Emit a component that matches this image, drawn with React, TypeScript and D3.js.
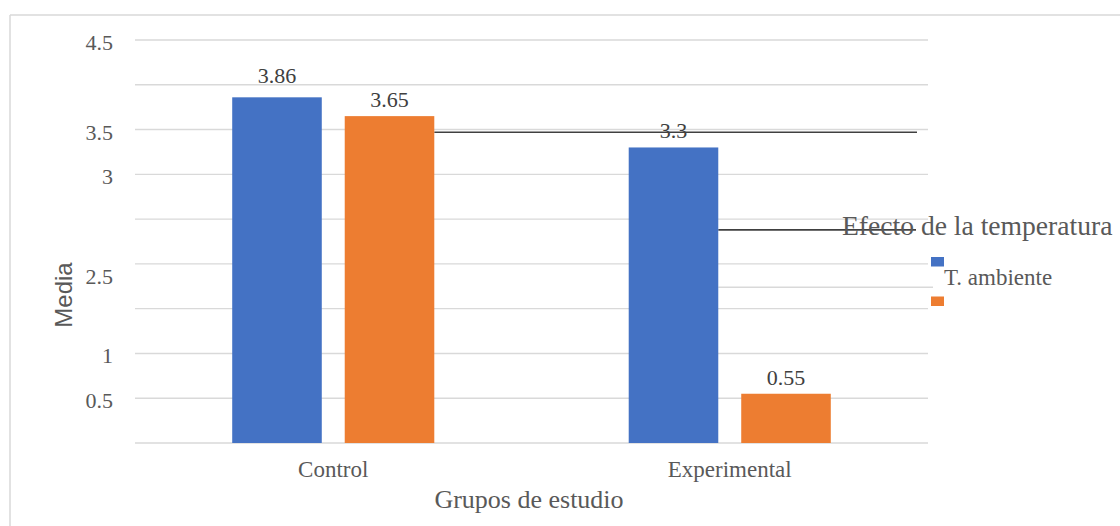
import React from "react";
import * as d3 from "d3";

const categories = ["Control", "Experimental"];
const seriesNames = ["T. ambiente", ""];
const ambiente = [3.86, 3.3];
const segunda = [3.65, 0.55];
const gridValues = [0, 0.5, 1, 1.5, 2, 2.5, 3, 3.5, 4, 4.5];
const tickLabels = ["4.5", "3.5", "3", "2.5", "1", "0.5"];
const tickAt = [4.5, 3.5, 3, 1.89, 1, 0.5];

const W = 1120;
const H = 526;
const COLORS = ["#4472C4", "#ED7D31"];
const TXT = "#595959";
const GRID = "#d9d9d9";
const SERIF = "'Liberation Serif', 'Times New Roman', serif";
const SANS = "'Liberation Sans', Arial, sans-serif";

export default function App() {
  const y = d3.scaleLinear().domain([0, 4.5]).range([443, 40]);
  const x0 = d3.scaleBand<string>().domain(categories).range([135, 928]);
  const x1 = d3
    .scaleBand<string>()
    .domain(["a", "b"])
    .range([0, x0.bandwidth()])
    .paddingInner(0.204)
    .paddingOuter(0.864);
  const series = [ambiente, segunda];

  return (
    <svg
      width={W}
      height={H}
      style={{ position: "absolute", left: 0, top: 0, background: "#fff" }}
    >
      {/* chart border */}
      <line x1={10} y1={15} x2={W} y2={15} stroke={GRID} strokeWidth={1.5} />
      <line x1={10} y1={15} x2={10} y2={H} stroke={GRID} strokeWidth={1.5} />

      {/* gridlines */}
      {gridValues.map((v) => (
        <line
          key={v}
          x1={135}
          x2={928}
          y1={y(v)}
          y2={y(v)}
          stroke={GRID}
          strokeWidth={1.4}
        />
      ))}

      {/* y tick labels */}
      {tickLabels.map((t, i) => (
        <text
          key={t}
          x={113}
          y={y(tickAt[i]) + 10}
          textAnchor="end"
          fontFamily={SERIF}
          fontSize={22}
          fill={TXT}
        >
          {t}
        </text>
      ))}

      {/* stray lines */}
      <line
        x1={x0("Control")! + x1("b")! + x1.bandwidth()}
        x2={917}
        y1={y(3.47)}
        y2={y(3.47)}
        stroke="#404040"
        strokeWidth={1.6}
      />
      <line
        x1={x0("Experimental")! + x1("a")! + x1.bandwidth()}
        x2={916}
        y1={y(2.38)}
        y2={y(2.38)}
        stroke="#404040"
        strokeWidth={1.6}
      />
      <line
        x1={x0("Experimental")! + x1("a")! + x1.bandwidth()}
        x2={933}
        y1={y(1.74)}
        y2={y(1.74)}
        stroke={GRID}
        strokeWidth={1.5}
      />

      {/* bars */}
      {categories.map((c, ci) =>
        series.map((s, si) => (
          <rect
            key={c + si}
            x={x0(c)! + x1(si === 0 ? "a" : "b")!}
            y={y(s[ci])}
            width={x1.bandwidth()}
            height={y(0) - y(s[ci])}
            fill={COLORS[si]}
          />
        ))
      )}

      {/* value labels */}
      {categories.map((c, ci) =>
        series.map((s, si) => (
          <text
            key={"l" + c + si}
            x={x0(c)! + x1(si === 0 ? "a" : "b")! + x1.bandwidth() / 2}
            y={y(s[ci]) - (ci === 0 && si === 0 ? 14.5 : 9)}
            textAnchor="middle"
            fontFamily={SERIF}
            fontSize={22}
            fill="#404040"
          >
            {String(s[ci])}
          </text>
        ))
      )}

      {/* category labels */}
      {categories.map((c) => (
        <text
          key={"c" + c}
          x={x0(c)! + x0.bandwidth() / 2}
          y={477}
          textAnchor="middle"
          fontFamily={SERIF}
          fontSize={23}
          fill={TXT}
        >
          {c}
        </text>
      ))}

      {/* axis titles */}
      <text
        x={529}
        y={508}
        textAnchor="middle"
        fontFamily={SERIF}
        fontSize={26}
        fill={TXT}
      >
        Grupos de estudio
      </text>
      <text
        transform="translate(72,295) rotate(-90)"
        textAnchor="middle"
        fontFamily={SANS}
        fontSize={24}
        fill={TXT}
      >
        Media
      </text>

      {/* legend */}
      <text x={842} y={235} fontFamily={SERIF} fontSize={27.6} fill={TXT}>
        Efecto de la temperatura
      </text>
      {seriesNames.map((n, i) => (
        <g key={"lg" + i}>
          <rect x={931} y={257 + i * 39.5} width={13} height={9.5} fill={COLORS[i]} />
          {n && (
            <text x={944} y={285 + i * 39.5} fontFamily={SERIF} fontSize={23} fill={TXT}>
              {n}
            </text>
          )}
        </g>
      ))}
    </svg>
  );
}
